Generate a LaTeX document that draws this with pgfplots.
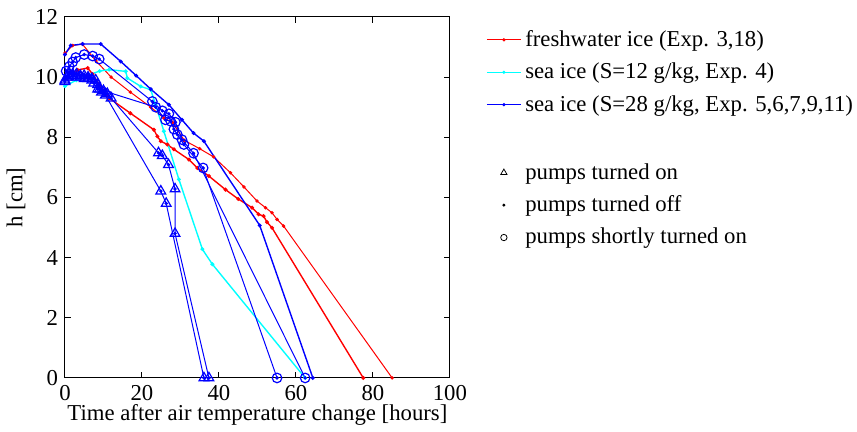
\documentclass[border=0pt]{standalone}
\usepackage{fontspec}
\setmainfont{Liberation Serif}
\usepackage{pgfplots}
\usepackage{pgfplotstable}
\pgfplotsset{compat=1.18}
\definecolor{mred}{rgb}{1,0,0}
\definecolor{mcyan}{rgb}{0,1,1}
\definecolor{mblue}{rgb}{0,0,1}

% freshwater ice, Exp. 3
\pgfplotstableread{
t h
0 10.8
2 11.05
4.5 11.1
8 10.55
12 10.0
17 9.5
22.3 9.0
25.7 8.64
27.9 8.5
31 7.9
35 7.62
38.6 7.35
43 6.82
46.5 6.35
49.9 5.88
52.1 5.66
53.8 5.49
55.1 5.27
56.8 5.05
85 0
}\freshA
% freshwater ice, Exp. 18
\pgfplotstableread{
t h
0 9.95
2 10.15
3.3 10.24
5.9 10.3
7.2 10.1
8.9 9.75
10 9.55
11.5 9.3
17 8.8
23.1 8.25
24 8.03
24.9 7.87
26.6 7.76
28.3 7.6
32.2 7.26
34.4 6.98
37.4 6.71
41.7 6.26
45 5.95
48.6 5.66
50.3 5.44
51.6 5.38
52.5 5.18
53.8 4.99
77.5 0
}\freshB
% sea ice S=12, Exp. 4
\pgfplotstableread{
t h
0 9.7
3 9.9
6.3 10.08
9 10.2
11.5 10.25
15.8 10.19
16.2 9.97
19.7 9.69
22.3 9.58
23.5 9.1
25.7 8.2
29.6 6.6
35.7 4.28
38.3 3.78
62.4 0
}\seaTwelve
% sea ice S=28, pumps off throughout
\pgfplotstableread{
t h
0 10.75
1.5 11.05
4.6 11.1
9.3 11.1
14.5 10.52
18.5 10.05
22.3 9.6
27 9.08
30.4 8.58
33.4 8.14
36.1 7.87
50.6 5.07
64.4 0
}\seaA
% sea ice S=28, pumps shortly on (1)
\pgfplotstableread{
t h
0 9.95
0.3 10.2
1.1 10.35
2 10.5
2.8 10.65
5 10.75
7.2 10.7
8.9 10.6
22.7 9.19
25.3 8.88
27 8.78
28.7 8.5
30.4 7.92
33.4 7.47
62.4 0
}\seaB
% sea ice S=28, pumps shortly on (2)
\pgfplotstableread{
t h
0 10.0
1 10.1
2 10.15
3 10.1
4.5 10.1
6 10.05
7.5 9.98
9 9.75
10.5 9.6
11.9 9.47
23.6 9.0
26.1 8.58
27.5 8.53
28.3 8.27
29.2 8.09
30.9 7.76
35.9 6.98
55.1 0
}\seaC
% sea ice S=28, pumps on (1)
\pgfplotstableread{
t h
0 9.85
0.5 10.0
1 10.1
2 10.1
3 10.1
4 10.05
5 10.05
6 10.0
7 9.95
8 9.9
8.5 9.75
9 9.6
10 9.55
11 9.45
12 9.3
24.3 7.48
25.3 7.39
26.9 7.09
28.6 6.28
28.6 4.8
37.4 0
}\seaD
% sea ice S=28, pumps on (2)
\pgfplotstableread{
t h
0 9.9
1 10.0
2 10.05
3 10.0
4 10.0
5 9.95
6 9.95
7 9.9
7.5 9.8
8.5 9.6
9.5 9.5
10.5 9.4
24.9 6.21
26.3 5.8
36.1 0
}\seaE

\begin{document}
\begin{tikzpicture}
\begin{axis}[
  name=ax,
  scale only axis,
  width=193pt, height=181pt,
  xmin=0, xmax=100, ymin=0, ymax=12,
  xtick={0,20,...,100}, ytick={0,2,...,12},
  tick align=inside, tick pos=both,
  major tick length=3pt,
  axis line style={line width=0.5pt},
  tick style={line width=0.5pt, black},
  font=\fontsize{11.4}{13.7}\selectfont,
  /pgf/number format/assume math mode=true,
  xlabel={Time after air temperature change [hours]},
  ylabel={h [cm]},
  xlabel style={yshift=5pt},
  ylabel style={yshift=-2pt},
  clip=false,
  every axis plot/.append style={line width=0.5pt},
  legend cell align=left,
  legend style={at={(1.094,0.975)}, anchor=north west, draw=none, fill=none,
    inner xsep=0pt, inner ysep=0pt,
    font=\fontsize{11.4}{13.7}\selectfont, row sep=2.8pt},
]
% lines of the experiments
\addplot[mred, mark=*, mark size=0.6pt, forget plot] table[x=t,y=h] {\freshA};
\addplot[mred, line width=0.7pt, mark=*, mark size=0.6pt, forget plot] table[x=t,y=h] {\freshB};
\addplot[mcyan, line width=0.7pt, mark=*, mark size=0.6pt, forget plot] table[x=t,y=h] {\seaTwelve};
\addplot[mblue, line width=0.7pt, mark=*, mark size=0.6pt, forget plot] table[x=t,y=h] {\seaA};
\addplot[mblue, mark=*, mark size=0.6pt, forget plot] table[x=t,y=h] {\seaB};
\addplot[mblue, mark=*, mark size=0.6pt, forget plot] table[x=t,y=h] {\seaC};
\addplot[mblue, mark=*, mark size=0.6pt, forget plot] table[x=t,y=h] {\seaD};
\addplot[mblue, mark=*, mark size=0.6pt, forget plot] table[x=t,y=h] {\seaE};
% pumps shortly turned on
\addplot[mblue, only marks, mark=o, mark size=2.4pt, mark options={line width=0.6pt}, forget plot]
  table[x=t,y=h] {
t h
0.3 10.2
1.1 10.35
2 10.5
2.8 10.65
5 10.75
7.2 10.7
8.9 10.6
22.7 9.19
25.3 8.88
27 8.78
28.7 8.5
30.4 7.92
33.4 7.47
62.4 0
23.6 9.0
26.1 8.58
27.5 8.53
28.3 8.27
29.2 8.09
30.9 7.76
35.9 6.98
55.1 0
};
% pumps turned on
\addplot[mblue, only marks, mark=triangle, mark size=2.8pt, mark options={line width=0.6pt}, forget plot]
  table[x=t,y=h] {
t h
0 9.85
0.5 10.0
1 10.1
2 10.1
3 10.1
4 10.05
5 10.05
6 10.0
7 9.95
8 9.9
8.5 9.75
9 9.6
10 9.55
11 9.45
12 9.3
24.3 7.48
25.3 7.39
26.9 7.09
28.6 6.28
28.6 4.8
37.4 0
0 9.9
1 10.0
2 10.05
3 10.0
4 10.0
5 9.95
6 9.95
7 9.9
7.5 9.8
8.5 9.6
9.5 9.5
10.5 9.4
24.9 6.21
26.3 5.8
36.1 0
};
% legend
\addlegendimage{mred, line width=0.4pt, mark=*, mark size=0.6pt}
\addlegendentry{freshwater ice (Exp. 3,18)}
\addlegendimage{mcyan, line width=0.4pt, mark=*, mark size=0.6pt}
\addlegendentry{sea ice (S=12 g/kg, Exp. 4)}
\addlegendimage{mblue, line width=0.4pt, mark=*, mark size=0.6pt}
\addlegendentry{sea ice (S=28 g/kg, Exp. 5,6,7,9,11)}
\addlegendimage{empty legend}
\addlegendentry{\strut}
\addlegendimage{black, only marks, mark=triangle, mark size=1.8pt, mark options={line width=0.4pt}}
\addlegendentry{pumps turned on}
\addlegendimage{black, only marks, mark=*, mark size=0.5pt}
\addlegendentry{pumps turned off}
\addlegendimage{black, only marks, mark=o, mark size=1.6pt, mark options={line width=0.4pt}}
\addlegendentry{pumps shortly turned on}
\end{axis}
\path ([shift={(-32pt,-25.5pt)}]ax.south west) rectangle ([shift={(203.5pt,8.5pt)}]ax.north east);
\end{tikzpicture}
\end{document}
